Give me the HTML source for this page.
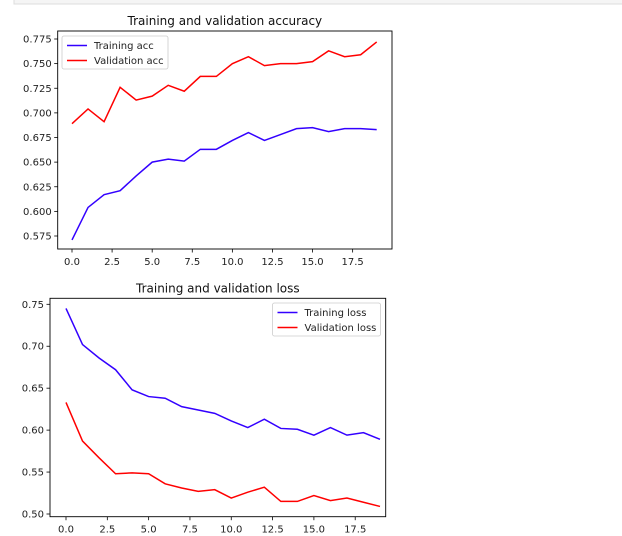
<!DOCTYPE html>
<html><head><meta charset="utf-8"><style>
body{margin:0;background:#fff;}
svg{display:block;font-family:"DejaVu Sans","Liberation Sans",sans-serif;}
</style></head><body>
<svg id="c" width="622" height="536">
<rect x="14" y="-1" width="609" height="5" fill="#f5f5f5" stroke="#ddd"/>
</svg>
<script>
const epochs=[0,1,2,3,4,5,6,7,8,9,10,11,12,13,14,15,16,17,18,19];
const trainAcc=[0.571,0.604,0.617,0.621,0.636,0.650,0.653,0.651,0.663,0.663,0.672,0.680,0.672,0.678,0.684,0.685,0.681,0.684,0.684,0.683];
const valAcc=[0.689,0.704,0.691,0.726,0.713,0.717,0.728,0.722,0.737,0.737,0.750,0.757,0.748,0.750,0.750,0.752,0.763,0.757,0.759,0.772];
const trainLoss=[0.745,0.702,0.686,0.672,0.648,0.640,0.638,0.628,0.624,0.620,0.611,0.603,0.613,0.602,0.601,0.594,0.603,0.594,0.597,0.589];
const valLoss=[0.633,0.587,0.567,0.548,0.549,0.548,0.536,0.531,0.527,0.529,0.519,0.526,0.532,0.515,0.515,0.522,0.516,0.519,0.514,0.509];
const xTicks=[0,2.5,5,7.5,10,12.5,15,17.5];
const yTicksAcc=[0.575,0.6,0.625,0.65,0.675,0.7,0.725,0.75,0.775];
const yTicksLoss=[0.5,0.55,0.6,0.65,0.7,0.75];
const NS='http://www.w3.org/2000/svg';
const svg=document.getElementById('c');
function mk(tag,attrs,parent){const e=document.createElementNS(NS,tag);for(const k in attrs)e.setAttribute(k,attrs[k]);(parent||svg).appendChild(e);return e;}
function chart(o){
  const g=mk('g',{});
  
  
  const sx=v=>o.x0px+(v-0)*(o.x19px-o.x0px)/19;
  const sy=v=>o.yApx+(v-o.yA)*(o.yBpx-o.yApx)/(o.yB-o.yA);
  const fr=mk('rect',{x:o.L,y:o.T,width:o.R-o.L,height:o.B-o.T,fill:'none',stroke:'#000','stroke-width':0.9},g);
  
  
  xTicks.forEach(t=>{const x=sx(t);
    mk('line',{x1:x,x2:x,y1:o.B,y2:o.B+3.5,stroke:'#000','stroke-width':0.8},g);
    const tx=mk('text',{x:x,y:o.B+16,'font-size':10,'text-anchor':'middle',fill:'#222'},g);tx.textContent=t.toFixed(1);
    
    });
  o.yt.forEach(t=>{const y=sy(t);
    mk('line',{x1:o.L-3.5,x2:o.L,y1:y,y2:y,stroke:'#000','stroke-width':0.8},g);
    const tx=mk('text',{x:o.L-6,y:y+3.5,'font-size':10,'text-anchor':'end',fill:'#222'},g);tx.textContent=t.toFixed(o.dec);
    
    });
  const ti=mk('text',{x:(o.L+o.R)/2,y:o.T-6,'font-size':12,'text-anchor':'middle',fill:'#111'},g);ti.textContent=o.title;
  
  
  o.series.forEach(s=>{
    const p=mk('polyline',{points:epochs.map((e,i)=>sx(e)+','+sy(s.d[i])).join(' '),fill:'none',stroke:s.c,'stroke-width':1.5},g);
    
    });
  const lg=mk('g',{},g);
  
  
  mk('rect',{x:o.lx,y:o.ly,width:o.lw,height:33,fill:'#fff',stroke:'#ccc','stroke-width':0.8,rx:2},lg);
  o.series.forEach((s,i)=>{const y=o.ly+9.5+i*15;
    mk('line',{x1:o.lx+5,x2:o.lx+25,y1:y,y2:y,stroke:s.c,'stroke-width':1.5},lg);
    const t=mk('text',{x:o.lx+32,y:y+3.5,'font-size':10,fill:'#222'},lg);t.textContent=s.label;
    
    });
}
chart({name:'accuracy-chart',L:57.7,R:392,T:31,B:249,x0px:72,x19px:376.7,yA:0.575,yApx:236,yB:0.775,yBpx:39,yt:yTicksAcc,dec:3,
  title:'Training and validation accuracy',lx:62,ly:36,lw:106,
  series:[{d:trainAcc,c:'#3300ff',n:'training-acc-line',label:'Training acc'},{d:valAcc,c:'#ff0000',n:'validation-acc-line',label:'Validation acc'}]});
chart({name:'loss-chart',L:50,R:385.7,T:298.3,B:516.7,x0px:66,x19px:380,yA:0.5,yApx:514,yB:0.75,yBpx:304.3,yt:yTicksLoss,dec:2,
  title:'Training and validation loss',lx:272.5,ly:303,lw:108,
  series:[{d:trainLoss,c:'#3300ff',n:'training-loss-line',label:'Training loss'},{d:valLoss,c:'#ff0000',n:'validation-loss-line',label:'Validation loss'}]});
</script>
</body></html>
